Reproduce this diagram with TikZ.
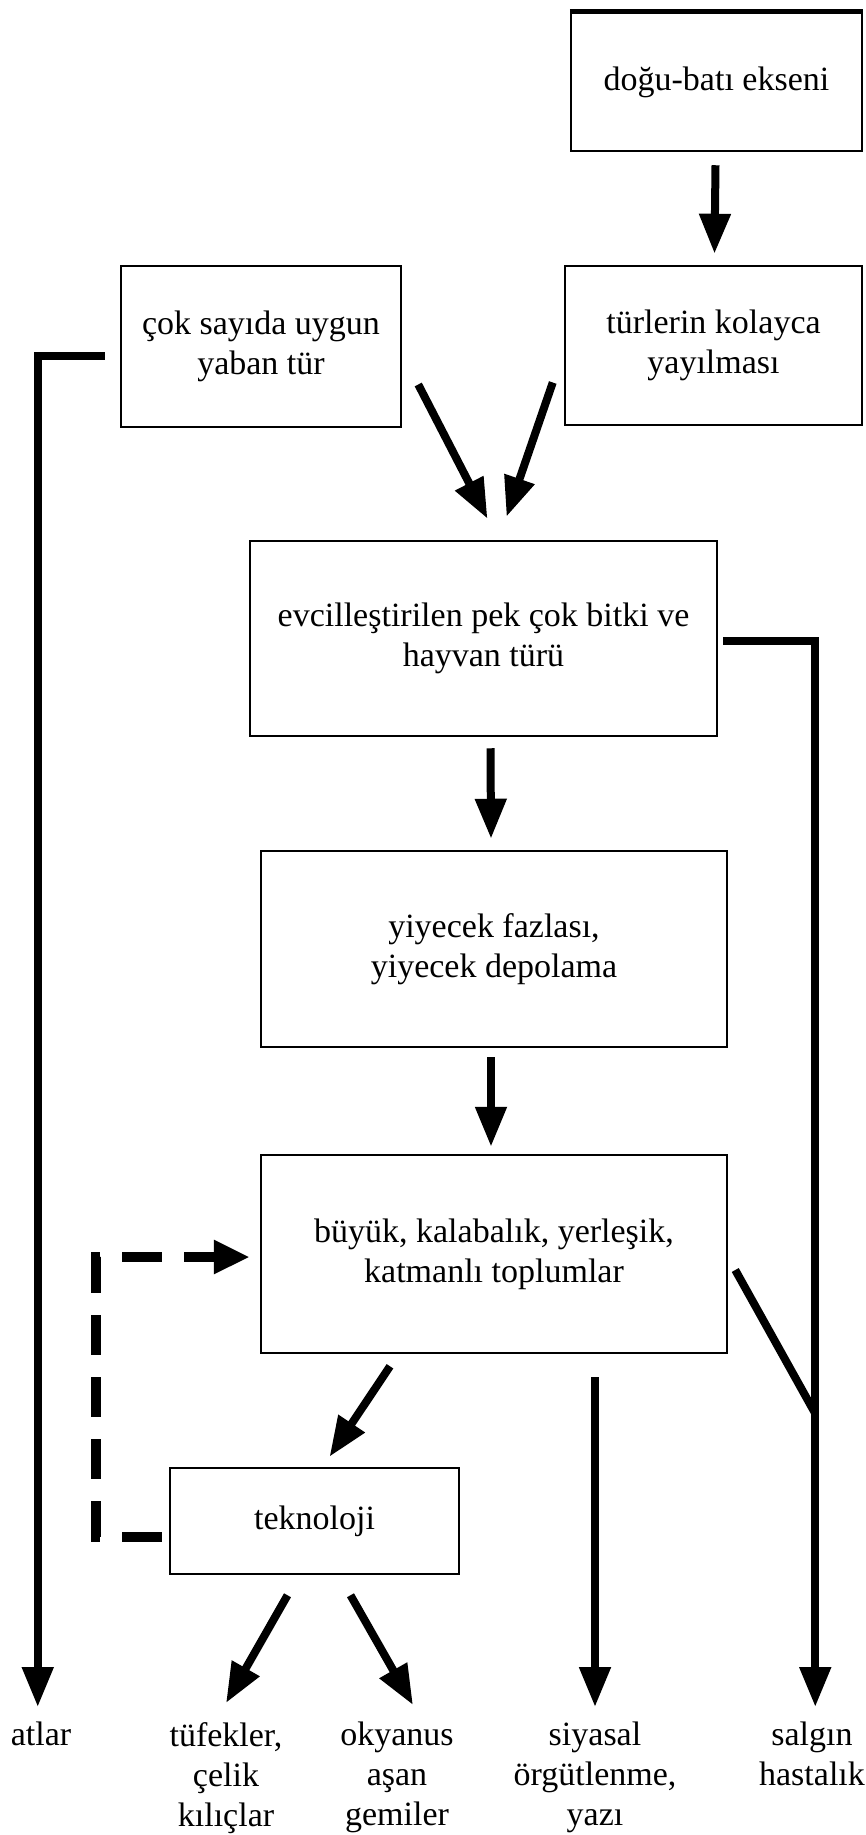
\documentclass[tikz,border=0pt]{standalone}
\usepackage{fontspec}
\setmainfont{Liberation Serif}
\usetikzlibrary{arrows.meta,calc}
\begin{document}
\begin{tikzpicture}[x=1pt,y=-1pt,
  txt/.style={font=\fontsize{34}{40}\selectfont},
  box/.style={draw,line width=2.5pt,align=center,inner sep=0pt,txt},
  lbl/.style={align=center,anchor=north,inner sep=0pt,txt},
  arr/.style={line width=8pt,-{Triangle[length=40pt,width=30pt]}},
  plain/.style={line width=8pt},
  dasharr/.style={line width=10pt,dash pattern=on 40pt off 22pt,-{Triangle[length=36pt,width=32pt]}}]
\useasboundingbox (0,0) rectangle (865,1835);
\fill[white] (0,0) rectangle (865,1835);

% boxes
\node[box,minimum width=291pt,minimum height=138pt] (dogu) at (716.5,82) {doğu-batı ekseni};
\draw[line width=5pt] (dogu.north west) -- (dogu.north east);
\node[box,minimum width=280pt,minimum height=161pt] (cok) at (261,346.5) {çok sayıda uygun\\yaban tür};
\node[box,minimum width=297pt,minimum height=159pt] (turler) at (713.5,345.5) {türlerin kolayca\\yayılması};
\node[box,minimum width=467pt,minimum height=195pt] (evcil) at (483.5,638.5) {evcilleştirilen pek çok bitki ve\\hayvan türü};
\node[box,minimum width=466pt,minimum height=196pt] (yiyecek) at (494,949) {yiyecek fazlası,\\yiyecek depolama};
\node[box,minimum width=466pt,minimum height=198pt] (buyuk) at (494,1254) {büyük, kalabalık, yerleşik,\\katmanlı toplumlar};
\node[box,minimum width=289pt,minimum height=106pt] (tekno) at (314.5,1521) {teknoloji};

% labels
\node[lbl] (atlar) at (41,1722) {atlar};
\node[lbl] (tufek) at (226,1722) {tüfekler,\\çelik\\kılıçlar};
\node[lbl] (okyanus) at (397,1722) {okyanus\\aşan\\gemiler};
\node[lbl] (siyasal) at (595,1722) {siyasal\\örgütlenme,\\yazı};
\node[lbl] (salgin) at (812,1722) {salgın\\hastalık};

% connectors
\draw[arr] ($(dogu.south)+(-1,13)$) -- ($(turler.north)+(1,-11)$);
\draw[arr] ($(cok.east)+(16,38)$) -- ($(evcil.north)+(4,-21)$);
\draw[arr] ($(turler.west)+(-11,37)$) -- ($(evcil.north)+(23,-23)$);

\coordinate (lcorner) at ($(cok.west)+(-82,9)$);
\draw[arr] ($(cok.west)+(-15,9)$) -- (lcorner) -- ($(lcorner |- atlar.north)+(0,-15)$);

\coordinate (rcorner) at ($(evcil.east)+(97,2)$);
\draw[arr] ($(evcil.east)+(5,2)$) -- (rcorner) -- ($(rcorner |- salgin.north)+(0,-15)$);

\draw[arr] ($(evcil.south)+(7,11)$) -- ($(yiyecek.north)+(-3,-11)$);
\draw[arr] ($(yiyecek.south)+(-3,9)$) -- ($(buyuk.north)+(-3,-7)$);

\draw[plain] ($(buyuk.east)+(7,16)$) -- ($(rcorner)+(0,773)$);

\draw[arr] ($(buyuk.south)+(-104,12)$) -- ($(tekno.north)+(15,-10)$);
\draw[arr] ($(buyuk.south)+(101,23)$) -- ($(siyasal.north -| {$(buyuk.south)+(101,0)$})+(0,-15)$);

\draw[arr] ($(tekno.south)+(-27,20)$) -- ($(tufek.north)+(0,-19)$);
\draw[arr] ($(tekno.south)+(36,20)$) -- ($(okyanus.north)+(16,-17)$);

\draw[dasharr] ($(tekno.west)+(-7,16)$) -- (96,1537) -- (96,1257) -- ($(buyuk.west)+(-10,3)$);
\end{tikzpicture}
\end{document}
